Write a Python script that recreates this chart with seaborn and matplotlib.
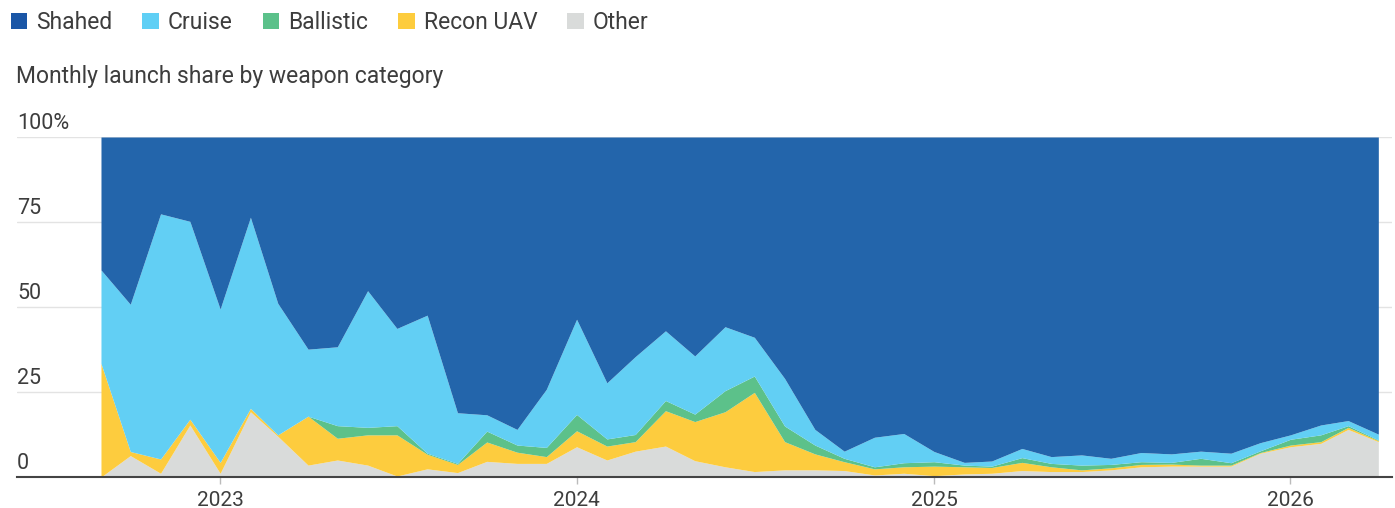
import pandas as pd
import numpy as np
import matplotlib
matplotlib.use("Agg")
import matplotlib.pyplot as plt
import matplotlib.dates as mdates
from matplotlib.patches import Patch
import seaborn as sns

# Monthly share (%) by weapon category, Sep 2022 - Apr 2026
months = pd.date_range("2022-09-01", "2026-04-01", freq="MS")

other = [0.0, 6.3, 1.1, 15.3, 1.1, 19.2, 12.0, 3.5, 5.0, 3.5, 0.3, 2.4, 1.3, 4.6,
         4.0, 4.0, 8.9, 5.0, 7.6, 9.1, 4.8, 3.0, 1.6, 2.1, 2.1, 1.9, 0.6, 1.1,
         0.4, 0.9, 1.1, 1.9, 1.6, 1.6, 2.1, 3.0, 3.2, 3.2, 3.2, 7.0, 8.9, 9.9, 14.0, 10.4]
recon = [33.4, 1.2, 4.2, 1.7, 3.2, 1.0, 0.4, 14.4, 6.4, 8.9, 12.1, 4.3, 2.4, 5.7,
         3.3, 2.0, 4.7, 4.1, 2.8, 10.4, 11.5, 16.2, 23.3, 8.3, 4.7, 2.6, 1.8, 1.9,
         2.8, 2.1, 1.7, 2.4, 1.4, 0.5, 0.6, 0.7, 0.6, 0.3, 0.3, 0.2, 0.5, 0.5, 0.6, 0.3]
ballistic = [0.0, 0.0, 0.0, 0.0, 0.0, 0.0, 0.0, 0.0, 3.7, 2.2, 2.7, 0.3, 0.3, 3.2,
             2.1, 2.7, 4.8, 2.1, 2.1, 3.0, 2.2, 6.2, 4.8, 4.6, 2.6, 1.0, 0.6, 1.2,
             1.3, 0.5, 0.4, 1.4, 1.0, 1.4, 1.0, 0.8, 0.5, 2.0, 0.7, 0.5, 1.7, 2.0, 0.5, 0.2]
cruise = [27.5, 43.3, 72.1, 58.2, 45.1, 56.2, 38.7, 19.7, 23.2, 40.2, 28.6, 40.6, 14.9, 4.8,
          4.6, 17.1, 28.0, 16.5, 22.9, 20.5, 17.1, 18.8, 11.4, 14.0, 4.6, 2.1, 8.7, 8.6,
          3.0, 0.8, 1.5, 2.7, 2.0, 3.0, 1.8, 2.7, 2.5, 2.1, 2.8, 2.4, 1.3, 2.9, 1.5, 1.7]
shahed = [39.1, 49.2, 22.6, 24.8, 50.6, 23.6, 48.9, 62.4, 61.7, 45.2, 56.3, 52.4, 81.1, 81.7,
          86.0, 74.2, 53.6, 72.3, 64.6, 57.0, 64.4, 55.8, 58.9, 71.0, 86.0, 92.4, 88.3, 87.2,
          92.5, 95.7, 95.3, 91.6, 94.0, 93.5, 94.5, 92.8, 93.2, 92.4, 93.0, 89.9, 87.6, 84.7, 83.4, 87.4]

categories = ["Shahed", "Cruise", "Ballistic", "Recon UAV", "Other"]
legend_colors = ["#1a56a6", "#5fcff5", "#5bc18a", "#fdcc3d", "#d9dbda"]
area_colors = ["#2365ab", "#62cff4", "#5cc18a", "#fdcc3e", "#d9dbda"]
y_ticks = [0, 25, 50, 75, 100]
y_labels = ["0", "25", "50", "75", "100%"]

sns.set_theme(style="white")
plt.rcParams["font.family"] = ["Roboto", "DejaVu Sans"]
text_color = "#3d3d3d"

fig = plt.figure(figsize=(13.95, 5.08), dpi=100)
ax = fig.add_axes([17 / 1395, 31 / 508, 1375 / 1395, 340 / 508])

# horizontal gridlines
for v in y_ticks[1:]:
    ax.axhline(v, color="#e3e3e3", lw=1, zorder=0)

# stacked areas, bottom to top
series = [other, recon, ballistic, cruise, shahed]
ax.stackplot(months, *series, colors=area_colors[::-1], lw=0, zorder=2)

ax.set_ylim(0, 100)
ax.set_xlim(months[0] - pd.Timedelta(days=86), months[-1] + pd.Timedelta(days=14))

ax.set_yticks([])
for v, lab in zip(y_ticks, y_labels):
    ax.text(0, v + 0.9, lab, transform=ax.get_yaxis_transform(), ha="left", va="bottom",
            fontsize=15.5, color=text_color)

ax.xaxis.set_major_locator(mdates.YearLocator())
ax.xaxis.set_major_formatter(mdates.DateFormatter("%Y"))
ax.tick_params(axis="x", direction="out", length=5, width=1, color="#bbbbbb",
               labelsize=15, labelcolor=text_color, pad=5, bottom=True)

for s in ["top", "left", "right"]:
    ax.spines[s].set_visible(False)
ax.spines["bottom"].set_color("#444444")
ax.spines["bottom"].set_linewidth(1.5)
ax.spines["bottom"].set_zorder(5)

handles = [Patch(facecolor=c, edgecolor="none", label=l) for c, l in zip(legend_colors, categories)]
fig.legend(handles=handles, loc="upper left", bbox_to_anchor=(-0.003, 1.008), ncol=5, frameon=False,
           fontsize=16.5, handlelength=0.72, handleheight=0.72, handletextpad=0.4,
           columnspacing=1.3, labelcolor=text_color, borderaxespad=0.25)

fig.text(16 / 1395, 1 - 77 / 508, "Monthly launch share by weapon category", fontsize=16.5,
         color=text_color, ha="left", va="center")

fig.savefig("out.png", dpi=100)
